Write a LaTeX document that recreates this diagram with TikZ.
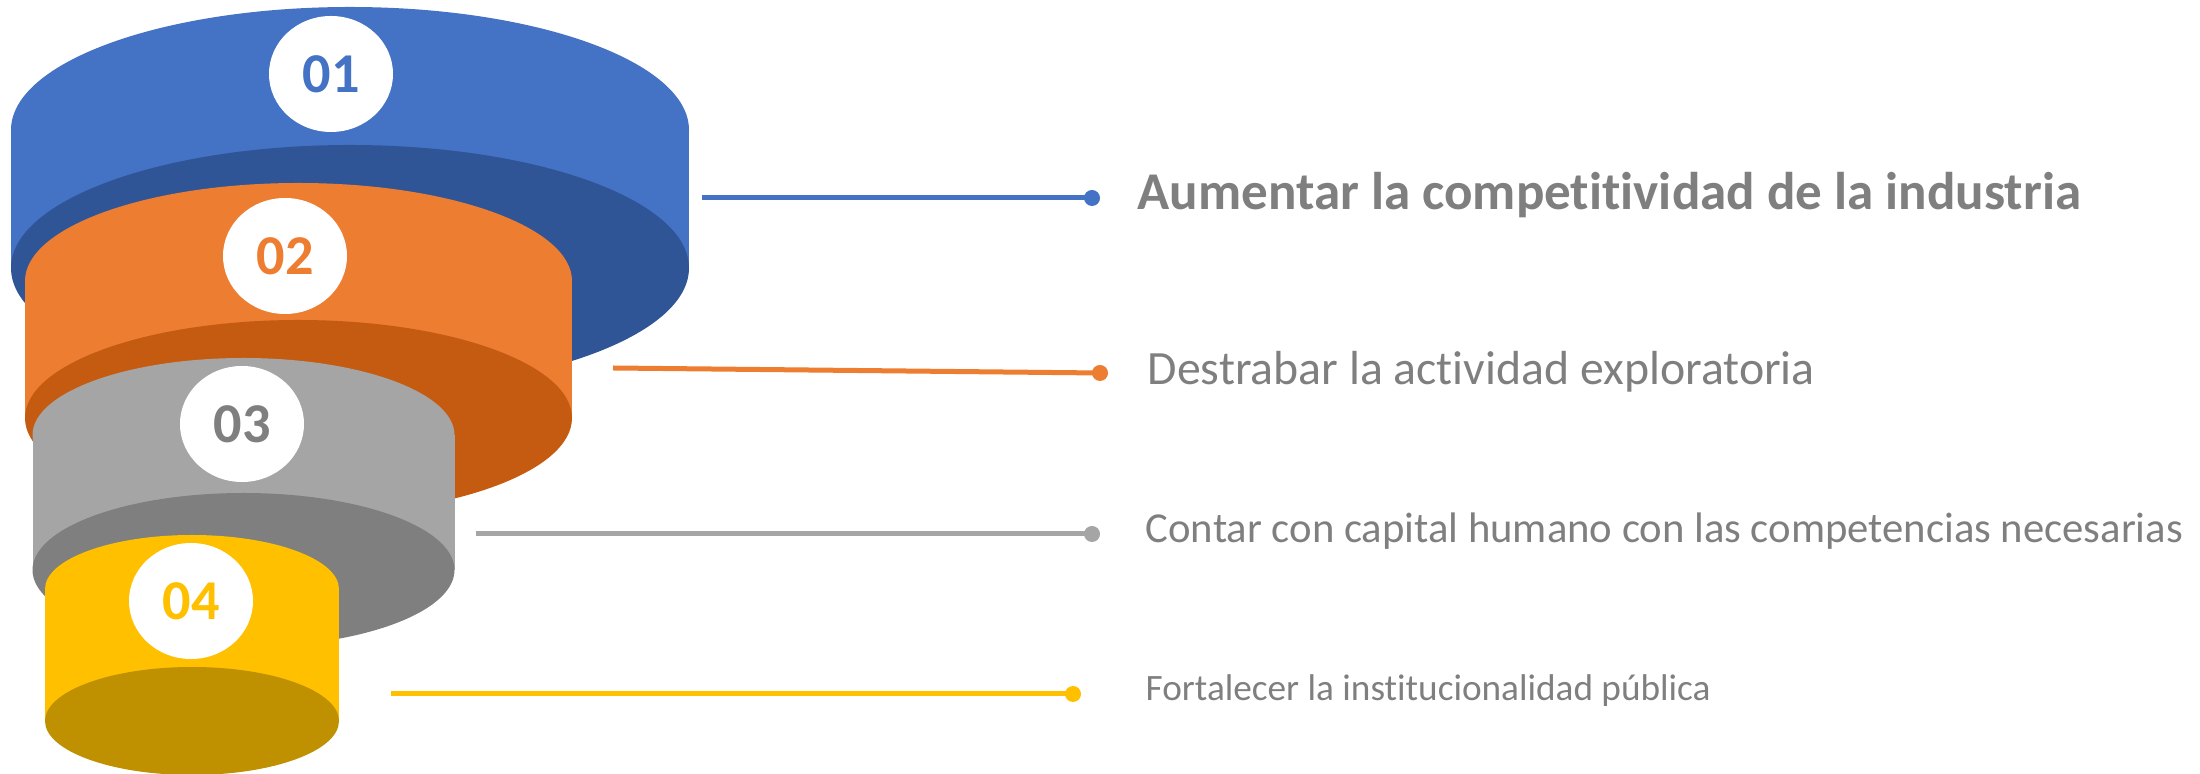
\documentclass[tikz,border=0pt]{standalone}
\usepackage{fontspec}
\setmainfont{Carlito}[Ligatures=NoCommon]
\usepackage{xcolor}
\usetikzlibrary{shapes.geometric}
\definecolor{azul}{HTML}{4472C4}
\definecolor{azulosc}{HTML}{2F5597}
\definecolor{naranja}{HTML}{ED7D31}
\definecolor{naranjaosc}{HTML}{C55A11}
\definecolor{gris}{HTML}{A5A5A5}
\definecolor{grisosc}{HTML}{7F7F7F}
\definecolor{amarillo}{HTML}{FFC000}
\definecolor{amarilloosc}{HTML}{BF9000}
\definecolor{texto}{HTML}{7F7F7F}

\begin{document}
\begin{tikzpicture}[x=1cm,y=1cm,
  numero/.style={ellipse,fill=white,minimum width=1.24cm,minimum height=1.16cm,inner sep=0pt,font=\fontsize{16}{18}\selectfont\bfseries},
  punto/.style={circle,fill=#1,minimum size=0.16cm,inner sep=0pt},
  linea/.style={draw=#1,line width=0.05cm},
  meta/.style={anchor=base west,inner sep=0pt,text=texto}]
\useasboundingbox (0,0) rectangle (22,7.74);
% cilindro 01
\fill[azul] (3.50,6.44) ellipse (3.39 and 1.23);
\fill[azul] (0.11,6.44) rectangle (6.89,5.06);
\fill[azulosc] (3.50,5.06) ellipse (3.39 and 1.23);
% cilindro 02
\fill[naranja] (2.985,4.93) ellipse (2.735 and 0.98);
\fill[naranja] (0.25,4.93) rectangle (5.72,3.56);
\fill[naranjaosc] (2.985,3.56) ellipse (2.735 and 0.98);
% cilindro 03
\fill[gris] (2.435,3.39) ellipse (2.11 and 0.77);
\fill[gris] (0.325,3.39) rectangle (4.545,2.04);
\fill[grisosc] (2.435,2.04) ellipse (2.11 and 0.77);
% cilindro 04
\fill[amarillo] (1.92,1.85) ellipse (1.47 and 0.54);
\fill[amarillo] (0.45,1.85) rectangle (3.39,0.53);
\fill[amarilloosc] (1.92,0.53) ellipse (1.47 and 0.54);
% numeros
\node[numero,text=azul] (n1) at (3.31,7.00) {01};
\node[numero,text=naranja] (n2) at (2.85,5.18) {02};
\node[numero,text=grisosc] (n3) at (2.42,3.50) {03};
\node[numero,text=amarillo] (n4) at (1.91,1.73) {04};
% lineas
\coordinate (s1) at (7.02,5.76);
\coordinate (s2) at (6.13,4.06);
\coordinate (s3) at (4.76,2.40);
\coordinate (s4) at (3.91,0.80);
\node[punto=azul] (p1) at (10.92,5.76) {};
\node[punto=naranja] (p2) at (11.00,4.01) {};
\node[punto=gris] (p3) at (10.92,2.40) {};
\node[punto=amarillo] (p4) at (10.73,0.80) {};
\draw[linea=azul] (s1) -- (p1.center);
\draw[linea=naranja] (s2) -- (p2.center);
\draw[linea=gris] (s3) -- (p3.center);
\draw[linea=amarillo] (s4) -- (p4.center);
% textos
\node[meta,font=\fontsize{15.1}{18}\selectfont\bfseries] (t1) at (11.37,5.64) {Aumentar la competitividad de la industria};
\node[meta,font=\fontsize{13.6}{16}\selectfont] (t2) at (11.47,3.89) {Destrabar la actividad exploratoria};
\node[meta,font=\fontsize{12.15}{15}\selectfont] (t3) at (11.45,2.31) {Contar con capital humano con las competencias necesarias};
\node[meta,font=\fontsize{10.6}{13}\selectfont] (t4) at (11.45,0.73) {Fortalecer la institucionalidad pública};
\end{tikzpicture}
\end{document}
